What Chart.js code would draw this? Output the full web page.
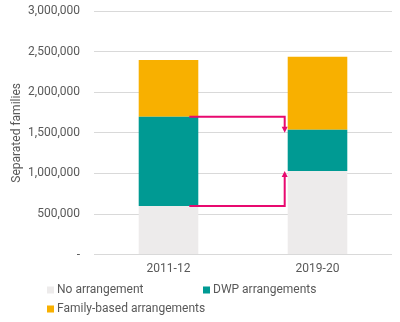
<!DOCTYPE html>
<html>
<head>
<meta charset="utf-8">
<script src="https://cdn.jsdelivr.net/npm/chart.js@4"></script>
<style>
  html, body { margin: 0; padding: 0; background: #fff; }
  #wrap { width: 400px; height: 322px; }
</style>
</head>
<body>
<div id="wrap"><canvas id="grafico" width="400" height="322"></canvas></div>
<script>
// ------------------------
// Data
// ------------------------

const years = ['2011-12', '2019-20'];
const noArrangement = [600000, 1030000];
const dwpArrangements = [1100000, 510000];
const familyBased = [700000, 900000];

const yTicks = [0, 500000, 1000000, 1500000, 2000000, 2500000, 3000000];

const corTexto = '#595959';
const corSeta = '#E8096F';

// ------------------------
// Legend drawn in two columns, like Excel
// ------------------------

const legendaExcel = {
  id: 'legendaExcel',
  afterDraw(chart) {
    const ctx = chart.ctx;
    const posicoes = [[47, 290], [203, 290], [47, 309]];
    ctx.save();
    ctx.font = '12px Roboto';
    ctx.textBaseline = 'middle';
    ctx.textAlign = 'left';
    chart.data.datasets.forEach((ds, i) => {
      const [x, y] = posicoes[i];
      ctx.fillStyle = ds.backgroundColor;
      ctx.fillRect(x, y - 3.5, 7, 7);
      ctx.fillStyle = corTexto;
      ctx.fillText(ds.label, x + 10, y);
    });
    ctx.restore();
  }
};

// ------------------------
// Pink arrows between the bars
// ------------------------

const setas = {
  id: 'setas',
  afterDatasetsDraw(chart) {
    const ctx = chart.ctx;
    const y = chart.scales.y;
    const bar1 = chart.getDatasetMeta(0).data[0];
    const bar2 = chart.getDatasetMeta(0).data[1];
    const xIni = bar1.x + bar1.width / 2 - 9;
    const xFim = bar2.x - bar2.width / 2 - 3;

    // upper arrow: top of DWP 2011-12 -> top of DWP 2019-20
    const yA1 = y.getPixelForValue(noArrangement[0] + dwpArrangements[0]);
    const yA2 = y.getPixelForValue(noArrangement[1] + dwpArrangements[1]) + 3;
    // lower arrow: top of no arrangement 2011-12 -> 2019-20
    const yB1 = y.getPixelForValue(noArrangement[0]);
    const yB2 = y.getPixelForValue(noArrangement[1]);

    ctx.save();
    ctx.strokeStyle = corSeta;
    ctx.fillStyle = corSeta;
    ctx.lineWidth = 2;

    function seta(y1, y2) {
      const dir = y2 > y1 ? 1 : -1;
      ctx.beginPath();
      ctx.moveTo(xIni, y1);
      ctx.lineTo(xFim, y1);
      ctx.lineTo(xFim, y2 - dir * 4);
      ctx.stroke();
      ctx.beginPath();
      ctx.moveTo(xFim, y2);
      ctx.lineTo(xFim - 3, y2 - dir * 6);
      ctx.lineTo(xFim + 3, y2 - dir * 6);
      ctx.closePath();
      ctx.fill();
    }

    seta(yA1, yA2);
    seta(yB1, yB2);
    ctx.restore();
  }
};

// ------------------------
// Chart
// ------------------------

const ctx = document.getElementById('grafico').getContext('2d');
const grafico = new Chart(ctx, {
  type: 'bar',
  data: {
    labels: years,
    datasets: [
      { label: 'No arrangement', data: noArrangement, backgroundColor: '#EDEBEB' },
      { label: 'DWP arrangements', data: dwpArrangements, backgroundColor: '#009A93' },
      { label: 'Family-based arrangements', data: familyBased, backgroundColor: '#F8B000' }
    ]
  },
  options: {
    responsive: false,
    animation: false,
    layout: { padding: { top: 11, right: 8, bottom: 39, left: 6 } },
    datasets: {
      bar: { barPercentage: 0.8, categoryPercentage: 0.5, borderWidth: 0 }
    },
    plugins: {
      legend: { display: false },
      tooltip: { enabled: false }
    },
    scales: {
      x: {
        stacked: true,
        grid: { display: false, drawTicks: false },
        border: { display: false },
        ticks: { color: corTexto, font: { family: 'Roboto', size: 12 }, padding: 7 }
      },
      y: {
        stacked: true,
        min: 0,
        max: 3000000,
        afterBuildTicks(axis) {
          axis.ticks = yTicks.map(v => ({ value: v }));
        },
        afterFit(axis) {
          axis.width = 88;
        },
        grid: { color: '#D9D9D9', drawTicks: true, tickLength: 10, tickColor: 'rgba(0,0,0,0)' },
        border: { display: false },
        ticks: {
          color: corTexto,
          font: { family: 'Roboto', size: 12 },
          padding: 4,
          callback: v => (v === 0 ? '-' : v.toLocaleString('en-GB'))
        },
        title: {
          display: true,
          text: 'Separated families',
          color: corTexto,
          font: { family: 'Roboto', size: 12 },
          padding: { top: 4, bottom: 3 }
        }
      }
    }
  },
  plugins: [setas, legendaExcel]
});
</script>
</body>
</html>
